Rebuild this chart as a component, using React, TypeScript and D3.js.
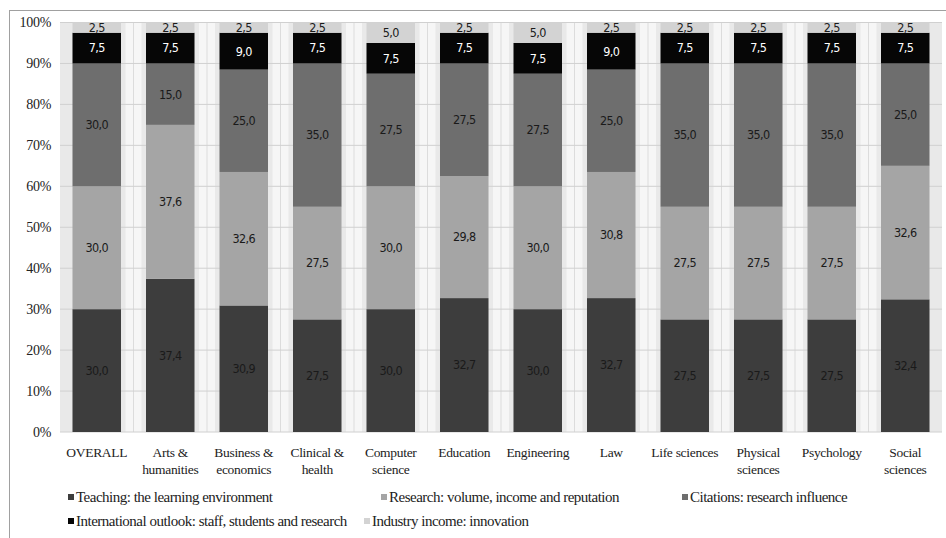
import React from "react";
import * as d3 from "d3";

const categories = [
  "OVERALL",
  "Arts &\nhumanities",
  "Business &\neconomics",
  "Clinical &\nhealth",
  "Computer\nscience",
  "Education",
  "Engineering",
  "Law",
  "Life sciences",
  "Physical\nsciences",
  "Psychology",
  "Social\nsciences",
];

const teaching = [30, 37.4, 30.9, 27.5, 30, 32.7, 30, 32.7, 27.5, 27.5, 27.5, 32.4];
const research = [30, 37.6, 32.6, 27.5, 30, 29.8, 30, 30.8, 27.5, 27.5, 27.5, 32.6];
const citations = [30, 15, 25, 35, 27.5, 27.5, 27.5, 25, 35, 35, 35, 25];
const international = [7.5, 7.5, 9, 7.5, 7.5, 7.5, 7.5, 9, 7.5, 7.5, 7.5, 7.5];
const industry = [2.5, 2.5, 2.5, 2.5, 5, 2.5, 5, 2.5, 2.5, 2.5, 2.5, 2.5];

const seriesNames = [
  "Teaching: the learning environment",
  "Research: volume, income and reputation",
  "Citations: research influence",
  "International outlook: staff, students and research",
  "Industry income: innovation",
];
const yTicks = [0, 10, 20, 30, 40, 50, 60, 70, 80, 90, 100];

const seriesData = [teaching, research, citations, international, industry];
const colors = ["#3d3d3d", "#a5a5a5", "#6e6e6e", "#060606", "#d3d3d3"];
const labelColors = ["#1a1a1a", "#1a1a1a", "#1a1a1a", "#ffffff", "#1a1a1a"];

const W = 946;
const H = 538;
const FONT = "'Liberation Serif', 'DejaVu Serif', serif";

export default function App() {
  const x = d3
    .scaleBand<string>()
    .domain(categories)
    .range([60, 942])
    .paddingInner(0.34)
    .paddingOuter(0.17);
  const y = d3.scaleLinear().domain([0, 100]).range([432, 22.5]);
  const fmt = (v: number) => d3.format(".1f")(v).replace(".", ",");

  const rows = categories.map((c, i) => {
    const obj: any = { cat: c };
    seriesData.forEach((s, k) => (obj["s" + k] = s[i]));
    return obj;
  });
  const stack = d3.stack<any>().keys(seriesData.map((_, k) => "s" + k))(rows);

  const bw = x.bandwidth();
  const step = x.step();

  const legendItems = [
    { k: 0, x: 68, y: 497 },
    { k: 1, x: 381, y: 497 },
    { k: 2, x: 682, y: 497 },
    { k: 3, x: 68, y: 521 },
    { k: 4, x: 364, y: 521 },
  ];

  return (
    <svg
      width={W}
      height={H}
      style={{ position: "absolute", left: 0, top: 0, background: "#fff" }}
      fontFamily={FONT}
    >
      <rect x={0} y={0} width={W} height={H} fill="#fff" />
      <rect x={9.5} y={10.5} width={W} height={H} fill="none" stroke="#a0a0a0" strokeWidth={1} />
      {/* plot background */}
      <rect x={60} y={y(100)} width={882} height={y(0) - y(100)} fill="#e9e9e9" />
      {categories.slice(1).map((c) => {
        const gx = (x(c) as number) - (step - bw) / 2;
        return (
          <g key={"gap" + c}>
            <rect x={gx - 8} y={y(100)} width={16} height={y(0) - y(100)} fill="#f6f6f6" />
            <line x1={gx} x2={gx} y1={y(100)} y2={y(0)} stroke="#dcdcdc" strokeWidth={1} />
          </g>
        );
      })}
      {yTicks.map((t) => (
        <line key={"g" + t} x1={60} x2={942} y1={y(t)} y2={y(t)} stroke="#d0d0d0" strokeWidth={1} />
      ))}
      {/* bars */}
      {stack.map((layer, k) =>
        layer.map((d, i) => (
          <rect
            key={"b" + k + "-" + i}
            x={x(categories[i])}
            y={y(d[1])}
            width={bw}
            height={y(d[0]) - y(d[1])}
            fill={colors[k]}
          />
        ))
      )}
      {/* data labels */}
      {stack.map((layer, k) =>
        layer.map((d, i) => (
          <text
            key={"l" + k + "-" + i}
            x={(x(categories[i]) as number) + bw / 2}
            y={(y(d[0]) + y(d[1])) / 2}
            dy="0.35em"
            textAnchor="middle"
            fontSize={12.5}
            fill={labelColors[k]}
            fontFamily="'DejaVu Sans Condensed', 'Liberation Sans Narrow', sans-serif"
            letterSpacing={-0.6}
          >
            {fmt(seriesData[k][i])}
          </text>
        ))
      )}
      {/* y axis labels */}
      {yTicks.map((t) => (
        <text
          key={"yt" + t}
          x={51}
          y={y(t)}
          dy="0.35em"
          textAnchor="end"
          fontSize={14}
          fill="#222"
          letterSpacing={-0.3}
        >
          {t + "%"}
        </text>
      ))}
      {/* category labels */}
      {categories.map((c) => (
        <text
          key={"c" + c}
          x={(x(c) as number) + bw / 2}
          y={452}
          textAnchor="middle"
          fontSize={13.5}
          fill="#222"
          letterSpacing={-0.3}
        >
          {c.split("\n").map((line, j) => (
            <tspan key={j} x={(x(c) as number) + bw / 2} dy={j === 0 ? "0.35em" : 17.5}>
              {line}
            </tspan>
          ))}
        </text>
      ))}
      {/* legend */}
      {legendItems.map((it) => (
        <g key={"lg" + it.k}>
          <rect x={it.x} y={it.y - 3} width={6} height={6} fill={colors[it.k]} />
          <text
            x={it.x + 8}
            y={it.y}
            dy="0.35em"
            fontSize={15}
            fill="#222"
            letterSpacing={-0.5}
            fontFamily={FONT}
          >
            {seriesNames[it.k]}
          </text>
        </g>
      ))}
    </svg>
  );
}
